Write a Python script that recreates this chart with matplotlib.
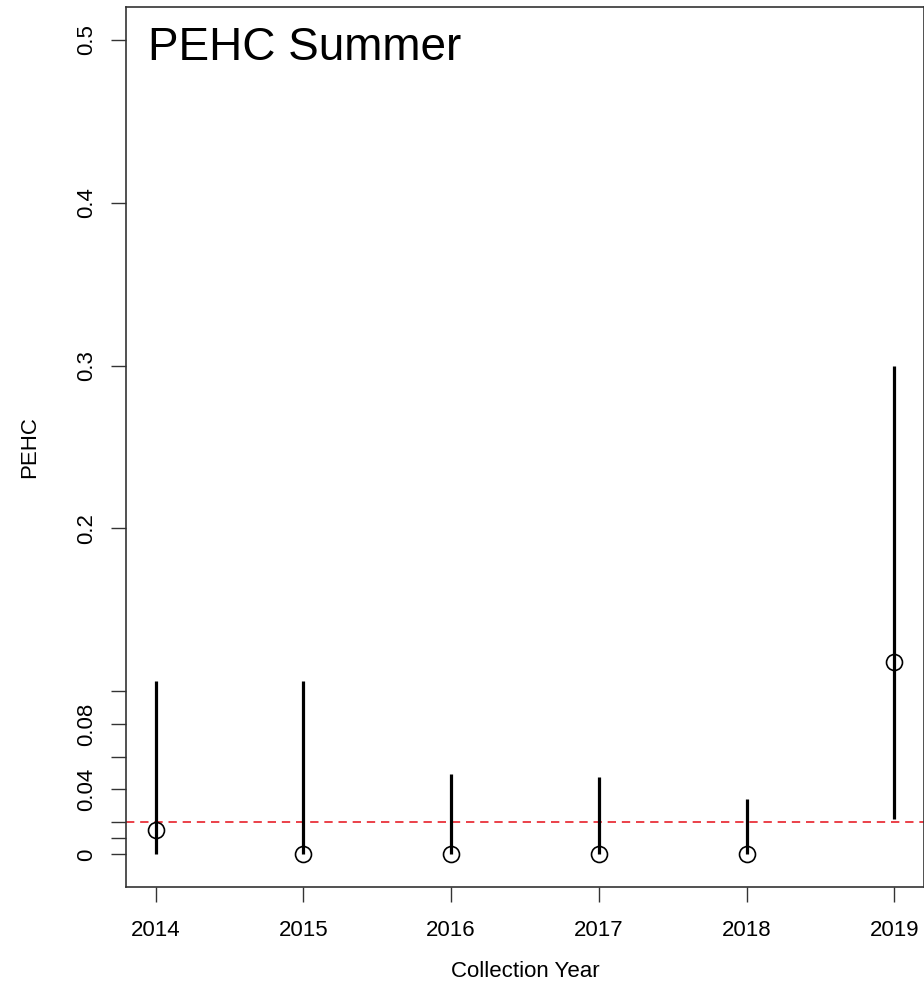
import matplotlib
matplotlib.use('Agg')
import matplotlib.pyplot as plt

plt.rcParams['font.family'] = ['Liberation Sans', 'DejaVu Sans']

##################
# Data
##################

years=      [2014, 2015, 2016, 2017, 2018, 2019]
pehc=       [0.0148, 0.0, 0.0, 0.0, 0.0, 0.118]
ci_low=     [0.0, 0.0, 0.0, 0.0, 0.0, 0.0215]
ci_high=    [0.1066, 0.1066, 0.0494, 0.0474, 0.034, 0.2997]
threshold=  0.02

ytick_vals=  [0, 0.01, 0.02, 0.04, 0.06, 0.08, 0.1, 0.2, 0.3, 0.4, 0.5]
ytick_labs=  ['0', '', '', '0.04', '', '0.08', '', '0.2', '0.3', '0.4', '0.5']

fig= plt.figure(figsize=(9.24, 9.86), dpi=100)
ax= fig.add_axes([126/924., 1-887/986., 1-126/924., 880/986.])

ax.vlines(years, ci_low, ci_high, colors='black', lw=2.3, zorder=2)
ax.plot(years, pehc, 'o', ms=11.5, mfc='none', mec='black', mew=1.2, zorder=3)
ax.axhline(threshold, color='#e8202a', ls=(0, (5, 3.5)), lw=1.2, zorder=1)

ax.set_xlim(2013.8, 2019.2)
ax.set_ylim(-0.02, 0.52)

ax.set_xticks(years)
ax.set_xticklabels([str(y) for y in years])
ax.set_yticks(ytick_vals)
ax.set_yticklabels(ytick_labs, rotation=90, va='center')

ax.tick_params(axis='both', labelsize=16, length=11, width=1, color='#333333')
ax.tick_params(axis='x', pad=13)
ax.tick_params(axis='y', pad=9.5)

for sp in ax.spines.values():
    sp.set_color('#333333')
    sp.set_linewidth(1.2)

ax.set_xlabel('Collection Year', fontsize=16, labelpad=14)
ax.set_ylabel('PEHC', fontsize=16, labelpad=26)

ax.text(0.028, 0.9398, 'PEHC Summer', transform=ax.transAxes, fontsize=33,
        ha='left', va='baseline')

fig.savefig('out.png', dpi=100)
